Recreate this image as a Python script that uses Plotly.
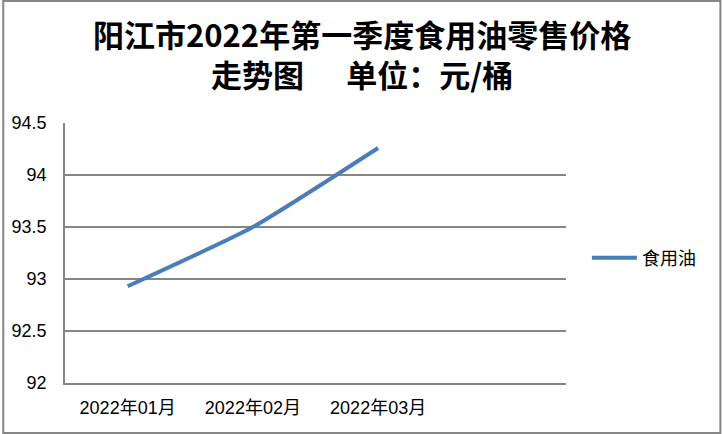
import plotly.graph_objects as go

months = ["2022年01月", "2022年02月", "2022年03月"]
prices = [92.93, 93.50, 94.26]
series_name = "食用油"
y_ticks = [92, 92.5, 93, 93.5, 94, 94.5]

W, H = 722, 434
ML, MR, MT, MB = 63, 156, 123, 51
PW = W - ML - MR
PH = H - MT - MB

grid = "#868686"
blue = "#4A7EBB"
cjk = "Liberation Sans, Noto Sans CJK SC"


def px_x(x):
    return (x - ML) / PW


def px_y(y):
    return 1 + (MT - y) / PH


trace = go.Scatter(
    x=months,
    y=prices,
    name=series_name,
    mode="lines",
    line=dict(color=blue, width=4, shape="spline", smoothing=0.5),
)

layout = go.Layout(
    width=W,
    height=H,
    margin=dict(l=ML, r=MR, t=MT, b=MB, pad=0),
    paper_bgcolor="white",
    plot_bgcolor="white",
    showlegend=True,
    legend=dict(
        x=px_x(587), y=px_y(258), xanchor="left", yanchor="middle",
        font=dict(family="Noto Sans CJK SC", size=18, color="black"),
        bgcolor="rgba(0,0,0,0)",
        itemwidth=45,
    ),
    xaxis=dict(
        type="category",
        range=[-0.5, 3.5],
        showgrid=False,
        showline=True, linecolor=grid, linewidth=1.5,
        ticks="", ticklabelstandoff=8,
        tickfont=dict(family=cjk, size=18, color="black"),
    ),
    yaxis=dict(
        range=[92, 94.5],
        tickvals=y_ticks,
        ticktext=[f"{v:g}" for v in y_ticks],
        showgrid=True, gridcolor=grid, gridwidth=1.5,
        zeroline=False,
        showline=True, linecolor=grid, linewidth=1.5,
        ticks="", ticklabelstandoff=13,
        tickfont=dict(family="Liberation Sans", size=18, color="black"),
    ),
    annotations=[
        dict(
            text="阳江市<b>2022</b>年第一季度食用油零售价格",
            xref="paper", yref="paper", x=px_x(361), y=px_y(34),
            xanchor="center", yanchor="middle", showarrow=False,
            font=dict(family="Noto Sans CJK SC", size=31, color="black", weight=600),
        ),
        dict(
            text="走势图" + "\u00a0" * 6 + "单位：元/桶",
            xref="paper", yref="paper", x=px_x(361), y=px_y(73),
            xanchor="center", yanchor="middle", showarrow=False,
            font=dict(family="Noto Sans CJK SC", size=31, color="black", weight=600),
        ),
    ],
    shapes=[
        dict(
            type="rect", xref="paper", yref="paper",
            x0=px_x(1), x1=px_x(W - 1), y0=px_y(H - 1), y1=px_y(1),
            line=dict(color=grid, width=2),
        )
    ],
)

fig = go.Figure(data=[trace], layout=layout)
fig.write_html(
    "out.html",
    config={"displayModeBar": False},
    post_script="document.body.style.margin='0';",
)
